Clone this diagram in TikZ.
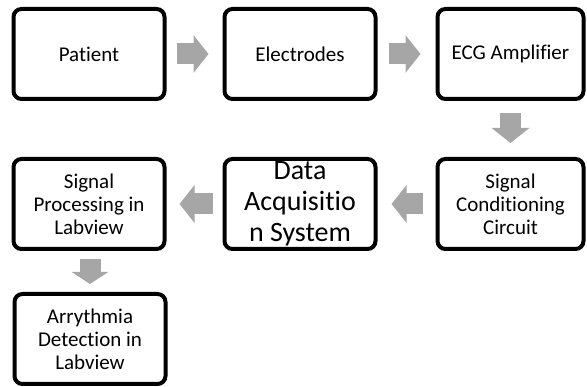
\documentclass[tikz,border=0pt]{standalone}
\usepackage{fontspec}
\setmainfont[Ligatures=NoCommon]{Carlito}
\usetikzlibrary{positioning,arrows.meta}
\definecolor{arrowgray}{HTML}{A6A6A6}

\tikzset{
  stagebox/.style={draw=black, line width=4pt, rounded corners=8pt, fill=white,
    minimum width=151pt, minimum height=90pt, inner sep=2pt,
    text width=145pt, align=flush center, font=\fontsize{21}{23}\selectfont},
  narrowbox/.style={stagebox, minimum width=146pt, text width=140pt},
  flowarrow/.style={draw=arrowgray, line width=21pt,
    -{Triangle[length=15pt,width=37pt]}},
}

\begin{document}
\begin{tikzpicture}[x=1pt, y=1pt, node distance=56pt]
		\useasboundingbox (0,0) rectangle (587,-387);

		% Define nodes
		\node[stagebox] (patient) at (89,-54) {Patient};
		\node[stagebox, right=of patient] (electrodes) {Electrodes};
		\node[narrowbox, right=58pt of electrodes] (amplifier) {ECG Amplifier};

		\node[narrowbox, below=of amplifier] (conditioning) {Signal\\Conditioning\\Circuit};
		\node[stagebox, below=of electrodes, font=\fontsize{28}{31}\selectfont] (daq) {Data\\Acquisitio\\n System};
		\node[stagebox, below=of patient] (processing) {Signal\\Processing in\\Labview};

		\node[stagebox, below=41pt of processing, xshift=1pt] (detection) {Arrythmia\\Detection in\\Labview};

		% Connect the nodes
		\draw[flowarrow, shorten <=10pt, shorten >=14pt] (patient) -- (electrodes);
		\draw[flowarrow, shorten <=11pt, shorten >=15pt] (electrodes) -- (amplifier);
		\draw[flowarrow, shorten <=12pt, shorten >=14pt] (amplifier) -- (conditioning);
		\draw[flowarrow, shorten <=13pt, shorten >=14pt] (conditioning) -- (daq);
		\draw[flowarrow, shorten <=10pt, shorten >=13pt] (daq) -- (processing);
		\draw[flowarrow, shorten <=8pt, shorten >=8pt,
		  -{Triangle[length=12pt,width=36pt]}] (processing.south -| detection) -- (detection);

	\end{tikzpicture}
\end{document}
